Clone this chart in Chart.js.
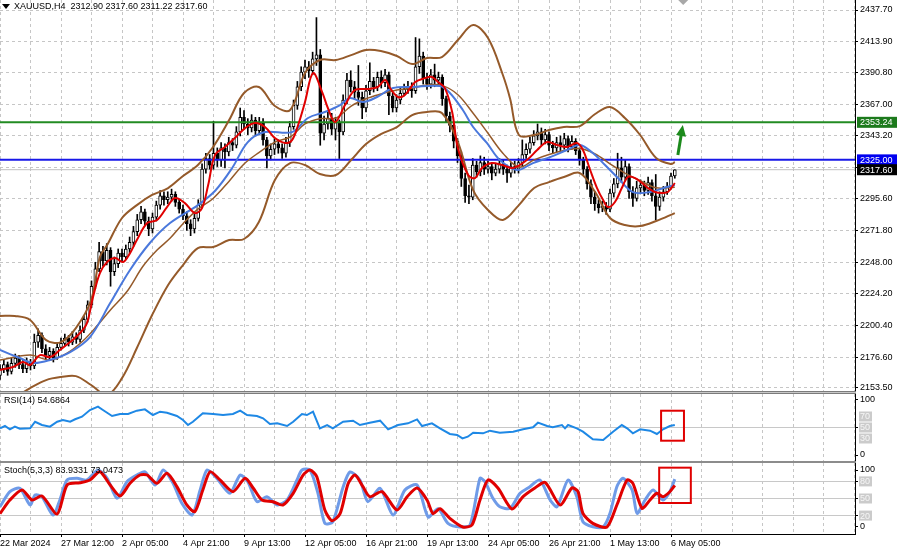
<!DOCTYPE html>
<html>
<head>
<meta charset="utf-8">
<script src="https://cdn.jsdelivr.net/npm/chart.js@4.4.1/dist/chart.umd.min.js"></script>
<style>
  html, body { margin: 0; padding: 0; background: #fff; }
  #wrap { position: relative; width: 900px; height: 554px; overflow: hidden; background: #fff; }
  #wrap canvas { position: absolute; left: 0; }
  .sep { position: absolute; left: 0; width: 856px; }
</style>
</head>
<body>
<div id="wrap">
  <canvas id="price" width="900" height="391" style="top:0"></canvas>
  <div class="sep" style="top:391px;height:1px;border-top:1px solid #7c7c7c;border-bottom:1px solid #7c7c7c;background:#c8c8c8"></div>
  <canvas id="rsi" width="900" height="67" style="top:394px"></canvas>
  <div class="sep" style="top:461px;height:2px;background:#8c8c8c"></div>
  <canvas id="stoch" width="900" height="91" style="top:463px"></canvas>
</div>
<script>
// ---------- data (bar 0 = 22 Mar 2024, H4 bars) ----------
const opens = [
  2163,2168,2171,2166,2172,2176,2171,2168,2173,2170,
  2188,2193,2183,2178,2181,2176,2184,2187,2191,2188,
  2192,2190,2197,2205,2216,2230,2243,2256,2249,2257,
  2241,2247,2255,2252,2258,2263,2271,2280,2286,2279,
  2273,2282,2291,2298,2295,2297,2299,2293,2288,2283,
  2277,2273,2281,2291,2318,2326,2321,2330,2325,2334,
  2331,2338,2336,2346,2357,2352,2349,2355,2347,2353,
  2340,2328,2333,2337,2334,2330,2338,2350,2366,2380,
  2391,2395,2392,2401,2404,2345,2352,2356,2348,2353,
  2346,2370,2385,2380,2376,2372,2364,2377,2384,2380,
  2387,2383,2389,2373,2364,2370,2375,2378,2380,2377,
  2395,2403,2386,2382,2389,2385,2387,2371,2358,2351,
  2339,2328,2311,2298,2297,2321,2316,2323,2318,2320,
  2315,2318,2322,2318,2315,2320,2318,2323,2329,2333,
  2338,2343,2346,2340,2344,2336,2334,2338,2336,2341,
  2335,2339,2332,2325,2318,2307,2297,2292,2289,2290,
  2288,2300,2307,2319,2312,2320,2301,2296,2304,2306,
  2302,2308,2298,2290,2297,2301,2305,2312.90
];
const highs = [
  2171,2175,2173,2176,2179,2178,2174,2176,2175,2194,
  2198,2195,2186,2184,2183,2187,2191,2194,2193,2196,
  2195,2200,2208,2219,2234,2248,2263,2260,2262,2259,
  2252,2258,2258,2261,2267,2275,2284,2290,2288,2282,
  2285,2294,2302,2301,2301,2303,2301,2295,2291,2286,
  2280,2284,2295,2322,2330,2329,2354,2334,2338,2337,
  2342,2341,2350,2364,2362,2356,2359,2357,2357,2356,
  2342,2337,2341,2340,2337,2342,2354,2370,2384,2395,
  2400,2399,2406,2432,2408,2358,2361,2360,2357,2355,
  2374,2390,2392,2384,2396,2376,2381,2398,2387,2391,
  2392,2393,2391,2376,2374,2379,2382,2384,2383,2417,
  2416,2406,2390,2393,2397,2391,2389,2373,2361,2353,
  2341,2331,2315,2306,2326,2324,2328,2327,2324,2323,
  2322,2326,2325,2321,2323,2324,2326,2340,2337,2342,
  2347,2352,2349,2348,2346,2339,2342,2343,2345,2343,
  2343,2341,2334,2327,2320,2310,2301,2295,2294,2293,
  2303,2311,2330,2327,2325,2322,2305,2309,2310,2309,
  2312,2310,2314,2301,2305,2308,2315,2317.60
];
const lows = [
  2160,2165,2163,2164,2169,2168,2165,2165,2167,2168,
  2184,2180,2175,2174,2173,2175,2182,2185,2185,2186,
  2187,2188,2195,2203,2214,2228,2241,2245,2246,2230,
  2238,2244,2249,2250,2255,2260,2268,2277,2276,2268,
  2270,2279,2288,2291,2292,2294,2290,2285,2280,2272,
  2268,2270,2279,2289,2315,2318,2318,2320,2320,2319,
  2328,2332,2334,2343,2348,2344,2346,2343,2344,2336,
  2319,2325,2329,2330,2326,2327,2335,2348,2363,2377,
  2386,2387,2389,2396,2336,2340,2348,2344,2340,2326,
  2344,2367,2376,2371,2366,2356,2361,2374,2376,2377,
  2379,2380,2359,2361,2361,2367,2373,2375,2372,2375,
  2390,2382,2378,2379,2380,2381,2366,2353,2346,2334,
  2323,2305,2293,2292,2295,2312,2313,2314,2315,2310,
  2313,2315,2314,2308,2312,2315,2315,2320,2326,2330,
  2336,2340,2336,2337,2332,2330,2331,2332,2333,2331,
  2333,2329,2321,2314,2303,2292,2287,2285,2286,2284,
  2286,2297,2304,2308,2309,2296,2290,2294,2300,2298,
  2299,2294,2280,2287,2294,2299,2303,2311.22
];
const closes = [
  2168,2171,2166,2172,2176,2171,2168,2173,2170,2188,
  2193,2183,2178,2181,2176,2184,2187,2191,2188,2192,
  2190,2197,2205,2216,2230,2243,2256,2249,2257,2241,
  2247,2255,2252,2258,2263,2271,2280,2286,2279,2273,
  2282,2291,2298,2295,2297,2299,2293,2288,2283,2277,
  2273,2281,2291,2318,2326,2321,2330,2325,2334,2331,
  2338,2336,2346,2357,2352,2349,2355,2347,2353,2340,
  2328,2333,2337,2334,2330,2338,2350,2366,2380,2391,
  2395,2392,2401,2404,2345,2352,2356,2348,2353,2346,
  2370,2385,2380,2376,2372,2364,2377,2384,2380,2387,
  2383,2389,2373,2364,2370,2375,2378,2380,2377,2395,
  2403,2386,2382,2389,2385,2387,2371,2358,2351,2339,
  2328,2311,2298,2297,2321,2316,2323,2318,2320,2315,
  2318,2322,2318,2315,2320,2318,2323,2329,2333,2338,
  2343,2346,2340,2344,2336,2334,2338,2336,2341,2335,
  2339,2332,2325,2318,2307,2297,2292,2289,2290,2288,
  2300,2307,2319,2312,2320,2301,2296,2304,2306,2302,
  2308,2298,2290,2297,2301,2305,2312.90,2317.60
];

// Bollinger bands and moving averages: [bar, price]
const bbUpper = [[0,2207.6],[3.9,2207.6],[7.9,2204.6],[12.1,2189.5],[16,2188],[19.9,2198.5],[23.9,2219.6],[26.2,2252],[28.1,2260.9],[32,2281.3],[35.9,2291],[39.9,2298.6],[44.1,2303.8],[48,2312.9],[51.9,2321.1],[55.9,2334.7],[60.1,2354.9],[64,2375.3],[67.9,2379.8],[72.1,2365.5],[76.1,2362.5],[80,2390.3],[83.9,2400.1],[88.1,2400.1],[92.1,2403.8],[96,2407.6],[99.9,2406.8],[104.1,2403.1],[108.1,2397.1],[112,2401.6],[115.9,2402.3],[120.1,2415.1],[124.1,2426.4],[128,2416.6],[131.9,2388.8],[133.8,2371],[136.1,2343.7],[140.1,2343.7],[144,2347.4],[147.9,2349.7],[152.1,2350.4],[156.1,2359.5],[160,2364.7],[163.9,2356.5],[167.9,2343.7],[172.1,2326.4],[176,2321.9],[177,2323.4]];
const bbMiddle = [[0,2174.5],[7.9,2178.2],[13.1,2174.5],[17.6,2179.7],[21.8,2189],[25.4,2200],[28.9,2212],[33.3,2226],[37.5,2245],[41.2,2257.2],[44.6,2266],[48,2277],[51.9,2288],[55.9,2296],[60.1,2309],[64,2321.9],[67.9,2330.5],[72.1,2338.4],[76.1,2342.2],[80,2352],[83.9,2356],[88.1,2356.5],[92.1,2365.5],[96,2371],[99.9,2374.5],[104.1,2377.5],[108.1,2379],[112,2381.3],[115.9,2381],[120.1,2374],[124.1,2360],[128,2345],[131.9,2330],[136.1,2319.5],[140.1,2325],[144,2329],[147.9,2332],[152.1,2333.5],[156.1,2329.5],[160,2322],[163.9,2315],[167.9,2309.3],[172.1,2304],[177,2304.4]];
const bbLower = [[0,2144.4],[3.9,2146.7],[7.9,2153.4],[12.1,2159.4],[16,2161.7],[19.9,2162.4],[23.9,2155.7],[28.1,2148.2],[32,2160.9],[35.9,2183.5],[39.9,2208.3],[44.1,2230.9],[48,2245.9],[51.9,2258.7],[55.9,2259.5],[60.1,2264.7],[64,2265.5],[67.9,2278.3],[72.1,2309.8],[76.1,2322.6],[80,2321.1],[83.9,2314.4],[88.1,2313.6],[92.1,2324.9],[96,2336.9],[99.9,2344.4],[104.1,2349.7],[108.1,2358.7],[112,2361],[115.9,2360.2],[120.1,2338.4],[124.1,2302.3],[128,2287.3],[131.9,2279.8],[136.1,2291],[140.1,2303.8],[144,2308.3],[147.9,2312.1],[152.1,2315.1],[156.1,2300.8],[160,2281.3],[163.9,2276],[167.9,2275.2],[172.1,2279],[177,2285]];
const fastMA = [[0,2167],[3.4,2169.2],[6,2173],[7.9,2170.7],[10.5,2178.2],[13.1,2176.7],[15.7,2182],[18.4,2188],[21,2194.8],[22.8,2202.3],[24.4,2221.9],[26.2,2239.9],[28.1,2248.2],[30.2,2251.2],[32.3,2248.2],[34.1,2254.9],[35.9,2264.7],[38.6,2277.5],[41.2,2279.8],[43.8,2289.5],[45.9,2296.3],[48.5,2292.5],[51.1,2285],[53,2288.8],[54.6,2306.1],[56.4,2328.6],[59,2334.7],[61.6,2341.4],[64.3,2348.9],[66.9,2352.7],[69.5,2349.7],[72.1,2341.4],[74.8,2337.7],[76.6,2339.9],[78.2,2351.2],[80,2368.5],[82.1,2390.3],[84.5,2376],[86,2364],[87.9,2353.5],[90.5,2366.2],[93.1,2377.5],[96.5,2378.3],[99.1,2379.8],[101,2385],[102.3,2379],[104.4,2372.3],[106.2,2373.8],[108.9,2383.5],[111.5,2386.5],[113.3,2387.3],[114.9,2383.5],[116.7,2379],[118.6,2361],[120.1,2333.9],[122.8,2313.6],[124.6,2311.3],[126.4,2318.9],[129,2322.6],[131.7,2321.1],[134.6,2318.9],[138.2,2324.9],[140.9,2332.4],[143.5,2338.4],[146.1,2336.2],[148.7,2334.7],[151.3,2337.7],[152.9,2332.4],[154.8,2317.4],[156.6,2303.8],[158.2,2294.8],[159.5,2289.5],[161.3,2293.3],[163.1,2303.8],[164.7,2312.1],[166.6,2311.3],[168.4,2307.6],[170,2303.8],[171.8,2300.8],[173.6,2300.1],[175.2,2300.8],[177,2307.6]];
const slowMA = [[0,2182],[5.2,2176],[8.7,2172.2],[13.1,2174.5],[18.4,2180.5],[23.6,2191.8],[28.9,2217.3],[34.1,2242.2],[39.3,2262.5],[44.6,2277.5],[51.9,2291],[56.5,2302],[60.9,2318.9],[65,2338.4],[69.5,2345.9],[76.6,2345.9],[80.8,2356.5],[85.2,2361],[89.2,2366.2],[91.8,2371.5],[95.2,2368.5],[98.9,2372.3],[103.1,2379],[108.3,2379.8],[115.4,2380.5],[118,2375.3],[121.4,2362.5],[124.1,2349.7],[127.7,2337.7],[131.1,2324.9],[135.6,2317.4],[139.8,2322.6],[144.3,2327.1],[148.7,2332.4],[152.1,2336.2],[155.5,2330.1],[158.7,2321.1],[162.1,2311.3],[166,2300.8],[170.5,2300.8],[174.9,2304.6],[177,2306.1]];

// horizontal levels drawn on the chart
const supportLevel = 2325.00;
const targetLevel = 2353.24;
const arrowFrom = [177.8, 2328.6];
const arrowTo = [179.1, 2351.2];

// RSI(14) and Stoch(5,3,3): [bar, value]
const rsi = [[0,48.5],[1.3,52.7],[2.6,46.7],[3.9,51.5],[5.2,47.8],[7.9,48.5],[9.2,60.5],[11,54.5],[13.1,51.5],[15,60.5],[16.5,63.6],[18.4,60.5],[19.7,65],[21.5,69.7],[23.6,81.8],[25.7,87.9],[27,81.8],[29.4,70.9],[31.5,74.5],[33.6,74.5],[35.9,80.6],[38,83],[40.1,72.7],[42,78.7],[43.8,76.9],[46.4,70.9],[48,63.6],[49.3,54.5],[50.6,60.5],[53.2,75.8],[55.9,74.5],[58.5,72.7],[61.1,74.5],[63,80.6],[64.8,72.7],[67.4,70.9],[69,66.7],[70.8,56.4],[72.7,57.6],[75.3,52.7],[76.9,60.5],[79.2,74.5],[80.5,72.7],[82.1,78.7],[83.9,48.5],[85.8,54.5],[87.3,48.5],[90,60.5],[92.6,62.4],[94.4,54.5],[97,58.8],[99.7,62.4],[101.8,46.7],[104.4,54.5],[107,57.6],[109.4,64.8],[110.7,52.7],[113.3,57.6],[115.4,48.5],[118,38.2],[119.9,36.4],[121.3,30.3],[122.7,33.3],[124.1,40.6],[126.7,39.4],[128.5,44.2],[131.1,40.6],[134.6,42.4],[137.2,46.7],[139.8,50.3],[141.1,58.8],[143.5,52.7],[145,50.3],[147.4,54.5],[148.2,48.5],[149,54.5],[151.3,48.5],[152.9,42.4],[155.5,28.5],[158.2,27.3],[160.8,42.4],[163.1,54.5],[164.5,48.5],[166,39.4],[167.9,46.7],[170.5,44.2],[172.3,38.2],[173.9,46.7],[175.7,52.7],[177,54.69]];
const stochMain = [[0,35.6],[2.6,61.9],[5.2,67.8],[7.9,38.6],[9.2,56.1],[11,53.2],[13.9,21.1],[15.7,47.4],[17.6,82.5],[20.2,85.4],[22.8,82.5],[25.7,100],[28.1,85.4],[30.7,50.3],[33.3,79.5],[35.9,91.2],[38,97],[40.7,73.7],[42.8,100],[45.4,76.6],[47.7,41.5],[50.4,21.1],[52.5,64.9],[54.3,100],[56.9,85.4],[60.3,59.1],[63,91.2],[65,79.5],[67.4,44.4],[70,53.2],[72.7,38.6],[75.3,47.4],[77.9,82.5],[79.2,100],[81.3,100],[83.4,59.1],[85.2,6.4],[87.3,9.1],[90,70.2],[91.8,96.5],[94.4,82.5],[96.5,44.4],[99.7,67.8],[103.1,21.1],[106.2,64.9],[109.4,73.7],[112.3,17.6],[114.9,32.2],[117.5,6.4],[120.7,0],[123.3,3.5],[125.9,85.4],[127.2,79.5],[129.3,50.3],[131.1,35.6],[133.8,32.8],[136.4,59.1],[139,70.8],[141.6,82.5],[144.3,47.4],[146.1,35.6],[149,82.5],[151.3,53.2],[152.9,9.1],[155.5,0.5],[158.2,0],[160,24],[161.8,70.8],[163.4,85.4],[165.8,64.9],[167.1,24],[169.2,47.4],[171.3,64.9],[173.9,47.4],[175.7,61.9],[177,83.93]];
const stochSignal = [[0,23.4],[2.6,47.4],[5.8,64.9],[8.4,47.4],[11,54.4],[15,22.8],[17.6,73.7],[21,77.7],[23.6,82.5],[26.2,97],[28.9,73.7],[31.5,54.4],[34.1,76.6],[36.7,91.2],[38.6,91.2],[41.2,76.6],[43.8,94.2],[46.4,70.8],[49,38.6],[51.1,26.9],[53.2,64.9],[55.1,97],[57.7,82.5],[61.1,61.9],[64.3,85.4],[66.4,68.4],[68.7,47.4],[71.6,44.4],[74.2,38.6],[76.9,59.1],[79.5,91.2],[81.3,100],[83.1,88.3],[85.2,29.8],[87.1,10.9],[89.2,23.4],[91.3,76],[93.1,91.2],[95.2,70.8],[97,53.2],[100.2,61.9],[104.1,29.8],[106.8,53.2],[109.4,68.4],[112,47.4],[113.6,23.4],[115.4,32.2],[118,15.2],[121.4,0],[123.8,3.5],[125.9,47.4],[128,82.5],[130.6,68.4],[134.3,31.6],[137.2,53.2],[140.3,68.4],[143,78.2],[146.9,38.6],[150,68.4],[151.6,62.4],[152.9,24],[155.5,6.4],[159.2,0],[161.8,38.6],[164.5,82.5],[166,76.6],[168.4,32.8],[170.5,47.4],[172.3,59.1],[173.9,53.2],[175.7,61.9],[177,73.05]];

// marked areas on the oscillators: [barFrom, barTo, valueTop, valueBottom]
const rsiBox = [173.4, 179.4, 80.5, 26];
const stochBox = [172.9, 181.2, 104.1, 42.1];

// axis labels
const priceTicks = [2437.70, 2413.90, 2390.80, 2367.00, 2343.20, 2319.40, 2295.60, 2271.80, 2248.00, 2224.20, 2200.40, 2176.60, 2153.50];
const rsiTicks = [0, 30, 50, 70, 100];
const rsiLevels = [30, 50, 70];
const stochTicks = [0, 20, 50, 80, 100];
const stochLevels = [20, 50, 80];
const dateBars = [0, 16, 32, 48, 64, 80, 96, 112, 128, 144, 160, 176];
const dateLabels = ['22 Mar 2024', '27 Mar 12:00', '2 Apr 05:00', '4 Apr 21:00', '9 Apr 13:00', '12 Apr 05:00',
  '16 Apr 21:00', '19 Apr 13:00', '24 Apr 05:00', '26 Apr 21:00', '1 May 13:00', '6 May 05:00'];

// ---------- common setup ----------
const FONT = { family: '"Liberation Sans", Arial, sans-serif', size: 9 };
const FONT_STR = '9px "Liberation Sans", Arial, sans-serif';
const X_MAX = 855 / 3.8125;
const gridBars = [];
for (let b = 0; b <= 224; b += 8) gridBars.push(b);
const dateAt = {};
dateBars.forEach((b, i) => { dateAt[b] = dateLabels[i]; });
const last = closes.length - 1;

function zeroPad(s) { s.paddingLeft = 0; s.paddingRight = 0; s.paddingTop = 0; s.paddingBottom = 0; }

function xAxis(withLabels) {
  return {
    type: 'linear', min: 0, max: X_MAX, offset: false,
    afterBuildTicks: s => { s.ticks = gridBars.map(v => ({ value: v })); },
    afterFit: s => { s.height = withLabels ? 20 : 0; zeroPad(s); },
    grid: {
      color: '#c6c6c6', offset: false, drawTicks: withLabels, tickLength: 3, tickBorderDash: [],
      tickColor: c => (withLabels && c.tick && dateAt[c.tick.value]) ? '#000' : 'rgba(0,0,0,0)'
    },
    border: { display: withLabels, color: '#000', dash: [3, 3] },
    ticks: {
      display: withLabels, autoSkip: false, maxRotation: 0, minRotation: 0, align: 'start',
      padding: 1, font: FONT, color: '#000', callback: v => dateAt[v] || ''
    }
  };
}

// level labels (30/50/70, 20/50/80) are drawn as grey tags by the overlay plugin
function yAxis(min, max, tickVals, fmt, levels) {
  const isLevel = c => levels && c.tick && levels.includes(c.tick.value);
  return {
    type: 'linear', position: 'right', min, max,
    afterBuildTicks: s => { s.ticks = tickVals.map(v => ({ value: v })); },
    afterFit: s => { s.width = 45; zeroPad(s); },
    grid: {
      color: c => levels ? (isLevel(c) ? '#c8c8c8' : 'rgba(0,0,0,0)') : '#c6c6c6',
      drawTicks: true, tickLength: 3, tickColor: '#000', tickBorderDash: []
    },
    border: { display: true, color: '#000', dash: levels ? [] : [3, 3] },
    ticks: {
      padding: 2, font: FONT, color: '#000',
      callback: v => (levels && levels.includes(v)) ? '' : fmt(v)
    }
  };
}

const baseOptions = {
  responsive: false, animation: false, devicePixelRatio: 1,
  layout: { padding: 0, autoPadding: false },
  plugins: { legend: { display: false }, tooltip: { enabled: false } }
};

function pts(arr) { return arr.map(p => ({ x: p[0], y: p[1] })); }
function curve(arr, color, width, order, tension) {
  return { type: 'line', data: pts(arr), borderColor: color, borderWidth: width, pointRadius: 0,
           tension: tension, fill: false, order };
}
function hline(value, color, width, order) {
  return { type: 'line', data: [{ x: 0, y: value }, { x: X_MAX, y: value }], borderColor: color,
           borderWidth: width, pointRadius: 0, tension: 0, fill: false, order };
}
function drawBox(chart, box) {
  const { ctx, scales: { x, y } } = chart;
  ctx.save();
  ctx.strokeStyle = '#e00000';
  ctx.lineWidth = 2;
  const x1 = x.getPixelForValue(box[0]), x2 = x.getPixelForValue(box[1]);
  const y1 = y.getPixelForValue(box[2]), y2 = y.getPixelForValue(box[3]);
  ctx.strokeRect(x1, y1, x2 - x1, y2 - y1);
  ctx.restore();
}
function caption(chart, text, yPix) {
  const ctx = chart.ctx;
  ctx.save();
  ctx.font = FONT_STR;
  ctx.fillStyle = '#000';
  ctx.textBaseline = 'middle';
  ctx.fillText(text, 4, yPix);
  ctx.restore();
}
function levelTags(chart, levels) {
  const { ctx, scales: { y } } = chart;
  ctx.save();
  ctx.font = FONT_STR;
  ctx.textBaseline = 'middle';
  levels.forEach(v => {
    const py = y.getPixelForValue(v);
    ctx.fillStyle = '#cbcbcb';
    ctx.fillRect(859, py - 5, 13, 10);
    ctx.fillStyle = '#f6f6f6';
    ctx.fillText(String(v), 860, py + 0.5);
  });
  ctx.restore();
}

// ---------- price chart ----------
const bull = closes.map((c, i) => c >= opens[i]);

const priceOverlay = {
  id: 'priceOverlay',
  afterDraw(chart) {
    const { ctx, scales: { x, y } } = chart;
    ctx.save();
    // header
    ctx.fillStyle = '#000';
    ctx.beginPath(); ctx.moveTo(2, 4); ctx.lineTo(10, 4); ctx.lineTo(6, 9); ctx.closePath(); ctx.fill();
    ctx.font = FONT_STR;
    ctx.textBaseline = 'middle';
    const head = 'XAUUSD,H4  ' + [opens[last], highs[last], lows[last], closes[last]].map(v => v.toFixed(2)).join(' ');
    ctx.fillText(head, 14, 7);

    // price tags on the axis
    const tags = [[targetLevel, '#1c7a1c'], [supportLevel, '#0000f0'], [closes[last], '#000000']];
    tags.forEach(([v, bg]) => {
      const py = y.getPixelForValue(v);
      ctx.fillStyle = bg;
      ctx.fillRect(857, py - 5.5, 40, 11);
      ctx.fillStyle = '#fff';
      ctx.fillText(v.toFixed(2), 860, py + 0.5);
    });

    // arrow
    const ax1 = x.getPixelForValue(arrowFrom[0]), ay1 = y.getPixelForValue(arrowFrom[1]);
    const ax2 = x.getPixelForValue(arrowTo[0]), ay2 = y.getPixelForValue(arrowTo[1]);
    const ang = Math.atan2(ay2 - ay1, ax2 - ax1);
    ctx.strokeStyle = '#1c8a1c';
    ctx.fillStyle = '#1c8a1c';
    ctx.lineWidth = 3;
    ctx.beginPath();
    ctx.moveTo(ax1, ay1);
    ctx.lineTo(ax2 - 7 * Math.cos(ang), ay2 - 7 * Math.sin(ang));
    ctx.stroke();
    ctx.beginPath();
    ctx.moveTo(ax2, ay2);
    ctx.lineTo(ax2 - 11 * Math.cos(ang) + 5 * Math.sin(ang), ay2 - 11 * Math.sin(ang) - 5 * Math.cos(ang));
    ctx.lineTo(ax2 - 11 * Math.cos(ang) - 5 * Math.sin(ang), ay2 - 11 * Math.sin(ang) + 5 * Math.cos(ang));
    ctx.closePath();
    ctx.fill();

    // chart shift marker
    const mx = x.getPixelForValue(179.2);
    ctx.fillStyle = '#a8a8a8';
    ctx.beginPath();
    ctx.moveTo(mx - 5, 0); ctx.lineTo(mx, 5); ctx.lineTo(mx + 5, 0); ctx.lineTo(mx, -5);
    ctx.closePath(); ctx.fill();
    ctx.restore();
  }
};

new Chart(document.getElementById('price'), {
  type: 'line',
  data: {
    datasets: [
      curve(fastMA, '#e00000', 2, 1, 0.35),
      curve(slowMA, '#4a78dc', 2, 2, 0.35),
      curve(bbUpper, '#955a2a', 2, 3, 0.35),
      curve(bbMiddle, '#955a2a', 1.5, 3, 0.35),
      curve(bbLower, '#955a2a', 2, 3, 0.35),
      hline(targetLevel, '#228b22', 2, 4),
      hline(supportLevel, '#1818e8', 2, 4),
      {
        type: 'bar', data: closes.map((c, i) => ({ x: i, y: [opens[i], c] })),
        backgroundColor: bull.map(b => b ? '#ffffff' : '#000000'),
        borderColor: '#000', borderWidth: 1, borderSkipped: false,
        barThickness: 3, grouped: false, order: 5
      },
      {
        type: 'bar', data: closes.map((c, i) => ({ x: i, y: [lows[i], highs[i]] })),
        backgroundColor: '#000', borderWidth: 0, barThickness: 1, grouped: false, order: 6
      },
      hline(closes[last], '#c0c0c0', 1, 7)
    ]
  },
  options: Object.assign({}, baseOptions, {
    scales: {
      x: xAxis(false),
      y: yAxis(2151.2, 2445.22, priceTicks, v => v.toFixed(2), null)
    }
  }),
  plugins: [priceOverlay]
});

// ---------- RSI ----------
new Chart(document.getElementById('rsi'), {
  type: 'line',
  data: { datasets: [curve(rsi, '#1e88e5', 2, 1, 0)] },
  options: Object.assign({}, baseOptions, {
    scales: { x: xAxis(false), y: yAxis(-10.9, 110.9, rsiTicks, v => String(v), rsiLevels) }
  }),
  plugins: [{
    id: 'rsiOverlay',
    afterDraw(chart) {
      caption(chart, 'RSI(14) 54.6864', 7);
      levelTags(chart, rsiLevels);
      drawBox(chart, rsiBox);
    }
  }]
});

// ---------- Stochastic ----------
new Chart(document.getElementById('stoch'), {
  type: 'line',
  data: {
    datasets: [
      curve(stochSignal, '#e00000', 3, 1, 0.25),
      curve(stochMain, '#6f9be8', 3, 2, 0.25)
    ]
  },
  options: Object.assign({}, baseOptions, {
    scales: { x: xAxis(true), y: yAxis(-12.3, 112.3, stochTicks, v => String(v), stochLevels) }
  }),
  plugins: [{
    id: 'stochOverlay',
    afterDraw(chart) {
      caption(chart, 'Stoch(5,3,3) 83.9331 73.0473', 8);
      levelTags(chart, stochLevels);
      drawBox(chart, stochBox);
    }
  }]
});
</script>
</body>
</html>
